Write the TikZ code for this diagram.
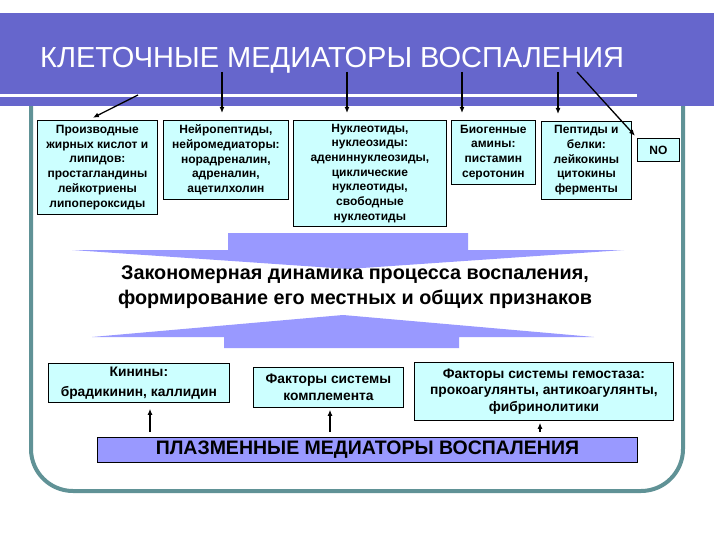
\documentclass[tikz,border=0pt]{standalone}
\usepackage{fontspec}
\setmainfont{Liberation Sans}
\usetikzlibrary{arrows.meta}
\definecolor{band}{RGB}{102,102,204}
\definecolor{cyanbox}{RGB}{204,255,255}
\definecolor{lav}{RGB}{153,153,255}
\definecolor{framec}{RGB}{96,146,150}
\begin{document}
\begin{tikzpicture}[x=1pt,y=-1pt,
  cbox/.style={draw=black, line width=0.8pt, fill=cyanbox, anchor=north west, inner sep=0pt, align=center, font=\fontsize{12}{14.7}\selectfont\bfseries},
  bbox/.style={cbox, font=\fontsize{13.8}{16.5}\selectfont\bfseries},
  arr/.style={-{Latex[length=6pt,width=5pt]}, line width=1.3pt},
]
\useasboundingbox (0,0) rectangle (720,540);
\fill[white] (0,0) rectangle (720,540);
% frame
\draw[framec, line width=4pt, rounded corners=42pt] (31,60) -- (31,491) -- (683,491) -- (683,60);
% header band
\fill[band] (0,13) rectangle (714,106);
\draw[white, line width=3pt] (0,96) -- (637,96);
\node[anchor=base west, text=white, font=\fontsize{29}{30}\selectfont, inner sep=0pt] (title) at (40,68) {КЛЕТОЧНЫЕ МЕДИАТОРЫ ВОСПАЛЕНИЯ};

% top boxes
\node[cbox, minimum width=120pt, minimum height=94pt] (b1) at (37,120) {Производные\\жирных кислот и\\липидов:\\простагландины\\лейкотриены\\липопероксиды};
\node[cbox, minimum width=125pt, minimum height=79pt] (b2) at (163,120) {Нейропептиды,\\нейромедиаторы:\\норадреналин,\\адреналин,\\ацетилхолин};
\node[cbox, minimum width=153pt, minimum height=106pt] (b3) at (293,120) {Нуклеотиды,\\нуклеозиды:\\адениннуклеозиды,\\циклические\\нуклеотиды,\\свободные\\нуклеотиды};
\node[cbox, minimum width=84pt, minimum height=64pt] (b4) at (451,120) {Биогенные\\амины:\\пистамин\\серотонин};
\node[cbox, minimum width=90pt, minimum height=78pt] (b5) at (541,121) {Пептиды и\\белки:\\лейкокины\\цитокины\\ферменты};
\node[cbox, minimum width=42pt, minimum height=23pt] (no) at (637,138) {NO};

% arrows from title
\coordinate (s1) at (138,95);
\coordinate (s2) at (222,72);
\coordinate (s3) at (347,72);
\coordinate (s4) at (462,72);
\coordinate (s5) at (558,72);
\coordinate (s6) at (577,72);
\draw[arr, shorten >=5pt] (s1) -- ([xshift=-9pt]b1.north);
\draw[arr, shorten >=7pt] (s2) -- (b2.north -| s2);
\draw[arr, shorten >=7pt] (s3) -- (b3.north -| s3);
\draw[arr, shorten >=7pt] (s4) -- (b4.north -| s4);
\draw[arr, shorten >=7pt] (s5) -- (b5.north -| s5);
\draw[arr, shorten >=3pt] (s6) -- (no.north west);

% block arrows
\fill[lav] (228,233) -- (468,233) -- (468,250) -- (624,250) -- (348,269) -- (72,250) -- (228,250) -- cycle;
\fill[lav] (224,348) -- (459,348) -- (459,337) -- (594,337) -- (343,315) -- (92,337) -- (224,337) -- cycle;
\node[align=center, font=\fontsize{19.8}{25}\selectfont\bfseries, inner sep=0pt] (mid) at (355,287) {Закономерная динамика процесса воспаления,\\формирование его местных и общих признаков};

% bottom boxes
\node[bbox, minimum width=181pt, minimum height=39pt, font=\fontsize{13.8}{20}\selectfont\bfseries] (k) at (48,363) {Кинины:\\брадикинин, каллидин};
\node[bbox, minimum width=150pt, minimum height=40pt] (c) at (253,367) {Факторы системы\\комплемента};
\node[bbox, minimum width=259pt, minimum height=58pt] (g) at (414,362) {Факторы системы гемостаза:\\прокоагулянты, антикоагулянты,\\фибринолитики};
\node[draw=black, line width=0.8pt, fill=lav, anchor=north west, minimum width=540pt, minimum height=25pt, inner sep=0pt, font=\fontsize{19.5}{22}\selectfont\bfseries] (p) at (97,437) {ПЛАЗМЕННЫЕ МЕДИАТОРЫ ВОСПАЛЕНИЯ};

\coordinate (ak) at (150,0);
\coordinate (ac) at (330,0);
\coordinate (ag) at (540,0);
\draw[arr, shorten <=5pt, shorten >=6pt] (p.north -| ak) -- (k.south -| ak);
\draw[arr, shorten <=5pt, shorten >=2pt] (p.north -| ac) -- (c.south -| ac);
\draw[arr, shorten <=5pt, shorten >=2pt] (p.north -| ag) -- (g.south -| ag);
\end{tikzpicture}
\end{document}
